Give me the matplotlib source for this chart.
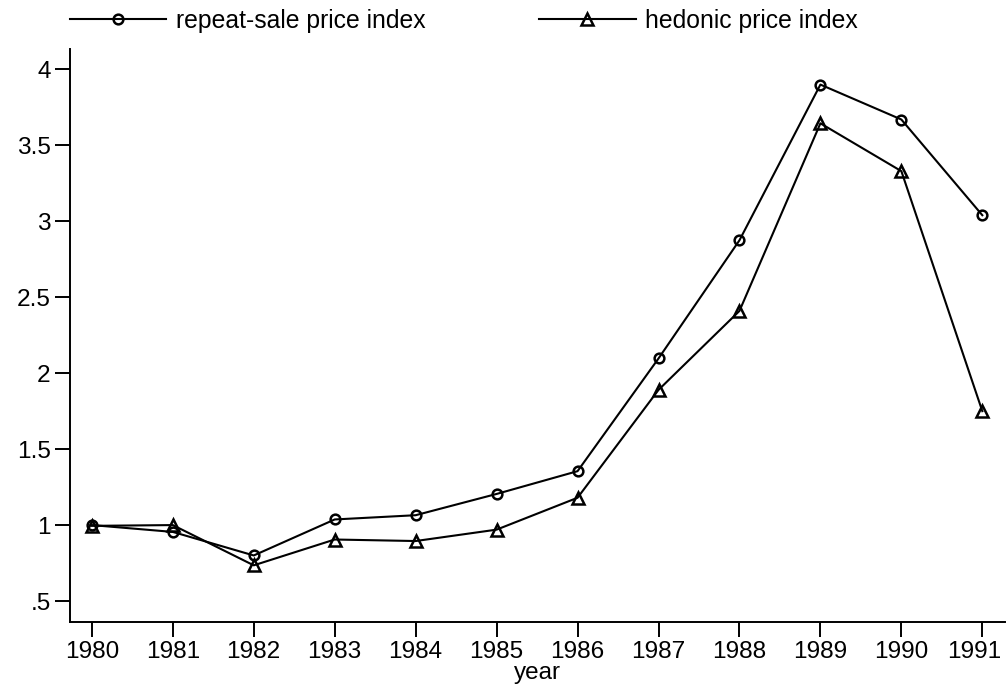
"""Repeat-sale vs hedonic price index, 1980-1991."""

import matplotlib
matplotlib.use('Agg')
import matplotlib.pyplot as plt
import matplotlib.transforms as mtransforms

plt.rcParams['font.family'] = ['Liberation Sans', 'DejaVu Sans']

years = [1980, 1981, 1982, 1983, 1984, 1985, 1986, 1987, 1988, 1989, 1990, 1991]
repeat_sale = [1.00, 0.955, 0.80, 1.037, 1.065, 1.205, 1.355, 2.097, 2.875, 3.90, 3.67, 3.04]
hedonic = [0.995, 1.00, 0.735, 0.905, 0.895, 0.97, 1.18, 1.89, 2.41, 3.645, 3.33, 1.75]
y_ticks = [0.5, 1, 1.5, 2, 2.5, 3, 3.5, 4]
y_tick_labels = ['.5', '1', '1.5', '2', '2.5', '3', '3.5', '4']

fig = plt.figure(figsize=(10.07, 6.84), dpi=100)
ax = fig.add_axes([0.0695, 0.0911, 0.9285, 0.8372])

ax.plot(years, repeat_sale, color='black', linewidth=1.5, marker='o',
        markersize=7, markerfacecolor='none', markeredgewidth=1.8,
        label='repeat-sale price index')
ax.plot(years, hedonic, color='black', linewidth=1.5, marker='^',
        markersize=8.5, markerfacecolor='none', markeredgewidth=1.8,
        label='hedonic price index')

ax.set_xlim(1979.73, 1991.28)
ax.set_ylim(0.364, 4.134)
ax.set_xticks(years)
ax.set_xticklabels([str(y) for y in years])
ax.set_yticks(y_ticks)
ax.set_yticklabels(y_tick_labels)
ax.set_xlabel('year', fontsize=17.5, labelpad=-1)

for side in ['top', 'right']:
    ax.spines[side].set_visible(False)
for side in ['left', 'bottom']:
    ax.spines[side].set_linewidth(1.4)
ax.tick_params(axis='both', labelsize=17.6, length=11, width=1.4, pad=3)

# last year label is nudged left so it stays inside the figure
last = ax.get_xticklabels()[-1]
last.set_transform(last.get_transform() +
                   mtransforms.ScaledTranslation(-8 / 100, 0, fig.dpi_scale_trans))

ax.legend(loc='center left', bbox_to_anchor=(70 / 1007, 1 - 21 / 684),
          bbox_transform=fig.transFigure, ncol=2, frameon=False,
          fontsize=17.8, handlelength=3.9, handletextpad=0.4,
          columnspacing=4.58, borderpad=0, borderaxespad=0)

plt.savefig('out.png', dpi=100)
plt.close()
